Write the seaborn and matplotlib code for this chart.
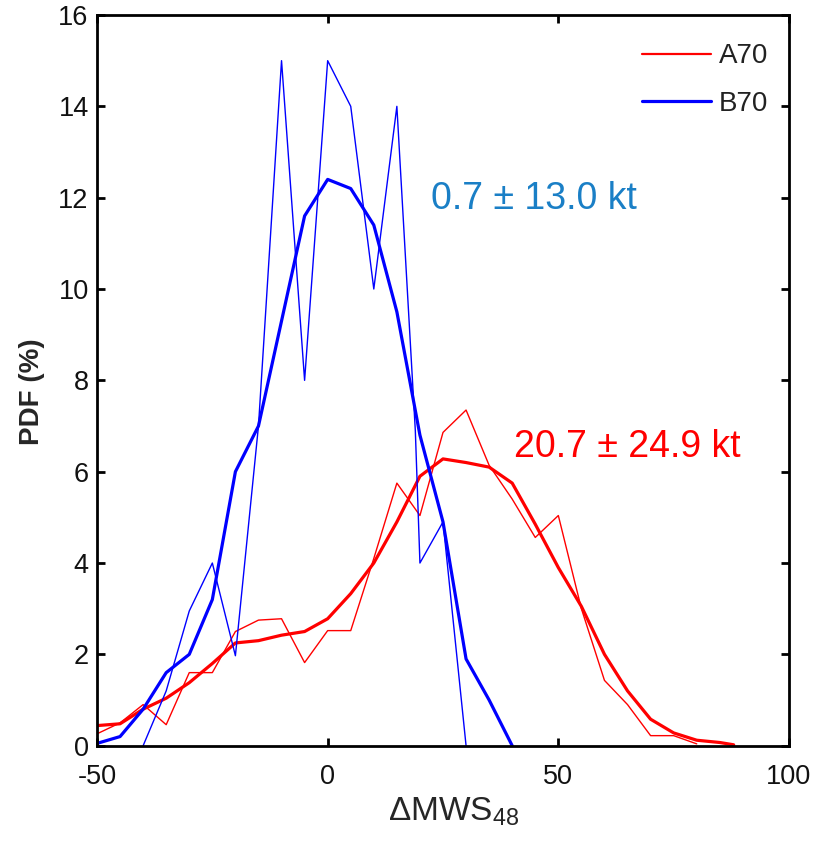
import matplotlib
matplotlib.use("Agg")
import matplotlib.pyplot as plt
import seaborn as sns
import pandas as pd
from matplotlib.lines import Line2D

# ---- data ----
a70_raw_x = [-50, -45, -40, -35, -30, -25, -20, -15, -10, -5, 0, 5, 10, 15, 20, 25, 30,
             35, 40, 45, 50, 55, 60, 65, 70, 75, 80]
a70_raw_y = [0.26, 0.5, 0.9, 0.46, 1.6, 1.6, 2.5, 2.75, 2.78, 1.82, 2.52, 2.52, 4.1, 5.75,
             5.04, 6.86, 7.35, 6.14, 5.4, 4.56, 5.04, 3.0, 1.43, 0.9, 0.22, 0.22, 0.04]

a70_smooth_x = [-50, -45, -40, -35, -30, -25, -20, -15, -10, -5, 0, 5, 10, 15, 20, 25, 30,
                35, 40, 45, 50, 55, 60, 65, 70, 75, 80, 85, 88]
a70_smooth_y = [0.44, 0.48, 0.8, 1.04, 1.38, 1.8, 2.25, 2.3, 2.42, 2.5, 2.78, 3.33, 4.0, 4.9,
                5.9, 6.28, 6.2, 6.1, 5.75, 4.85, 3.9, 3.05, 2.0, 1.2, 0.58, 0.28, 0.12, 0.07, 0.02]

b70_raw_x = [-40, -35, -30, -25, -20, -15, -10, -5, 0, 5, 10, 15, 19, 20, 25, 30]
b70_raw_y = [0.0, 1.2, 2.95, 4.0, 1.97, 7.0, 15.0, 8.0, 15.0, 14.0, 10.0, 14.0, 6.9, 4.0, 4.9, 0.0]

b70_smooth_x = [-50, -45, -40, -35, -30, -25, -20, -15, -10, -5, 0, 5, 10, 15, 20, 25, 30, 35, 40]
b70_smooth_y = [0.05, 0.2, 0.8, 1.6, 2.0, 3.2, 6.0, 7.0, 9.3, 11.6, 12.4, 12.2, 11.4, 9.5,
                6.8, 4.9, 1.9, 1.0, 0.0]

series_labels = ["A70", "B70"]
annot_a70 = "20.7 ± 24.9 kt"
annot_b70 = "0.7 ± 13.0 kt"
x_ticks = [-50, 0, 50, 100]
y_ticks = [0, 2, 4, 6, 8, 10, 12, 14, 16]

RED = "#ff0000"
BLUE = "#0000ff"
TXT_BLUE = "#1a7fc6"

sns.set_style("ticks")
plt.rcParams["font.family"] = ["Liberation Sans", "DejaVu Sans"]
plt.rcParams["mathtext.fontset"] = "custom"
plt.rcParams["mathtext.rm"] = "Liberation Sans"

fig = plt.figure(figsize=(8.2, 8.44), dpi=100)
ax = fig.add_axes([97 / 820, 1 - 745.7 / 844, 692 / 820, 730.7 / 844])

df_ar = pd.DataFrame({"x": a70_raw_x, "y": a70_raw_y})
df_as = pd.DataFrame({"x": a70_smooth_x, "y": a70_smooth_y})
df_br = pd.DataFrame({"x": b70_raw_x, "y": b70_raw_y})
df_bs = pd.DataFrame({"x": b70_smooth_x, "y": b70_smooth_y})

sns.lineplot(data=df_ar, x="x", y="y", color=RED, lw=1.0, sort=False, estimator=None, ax=ax, legend=False)
sns.lineplot(data=df_as, x="x", y="y", color=RED, lw=2.3, sort=False, estimator=None, ax=ax, legend=False)
sns.lineplot(data=df_br, x="x", y="y", color=BLUE, lw=1.0, sort=False, estimator=None, ax=ax, legend=False)
sns.lineplot(data=df_bs, x="x", y="y", color=BLUE, lw=2.3, sort=False, estimator=None, ax=ax, legend=False)

ax.set_xlim(-50, 100)
ax.set_ylim(0, 16)
ax.set_xticks(x_ticks)
ax.set_yticks(y_ticks)
ax.set_xticklabels([str(v) for v in x_ticks])
ax.set_yticklabels([str(v) for v in y_ticks])

for s in ax.spines.values():
    s.set_visible(True)
    s.set_linewidth(2.0)
    s.set_color("black")
ax.tick_params(axis="both", which="major", direction="in", length=6, width=2,
               labelsize=19.5, colors="black", labelcolor="#111111",
               top=True, right=True)
ax.tick_params(axis="x", pad=13)
ax.tick_params(axis="y", pad=6)

ax.set_xlabel("ΔMWS$_{\\mathregular{48}}$", fontsize=24)
ax.set_ylabel("PDF (%)", fontsize=20, fontweight="bold")
ax.xaxis.set_label_coords(0.515, -0.068)
ax.yaxis.set_label_coords(-0.075, 0.485)

ax.text(22.3, 11.75, annot_b70, color=TXT_BLUE, fontsize=27, ha="left", va="baseline")
ax.text(40.3, 6.33, annot_a70, color=RED, fontsize=27, ha="left", va="baseline")

handles = [Line2D([], [], color=RED, lw=1.6), Line2D([], [], color=BLUE, lw=2.3)]
leg = ax.legend(handles, series_labels, loc="upper right", frameon=False, fontsize=20,
                handlelength=2.45, handletextpad=0.3, labelspacing=0.78,
                borderpad=0, borderaxespad=0, bbox_to_anchor=(0.97, 0.961))
for t in leg.get_texts():
    t.set_color("#222222")

fig.savefig("out.png", dpi=100)
